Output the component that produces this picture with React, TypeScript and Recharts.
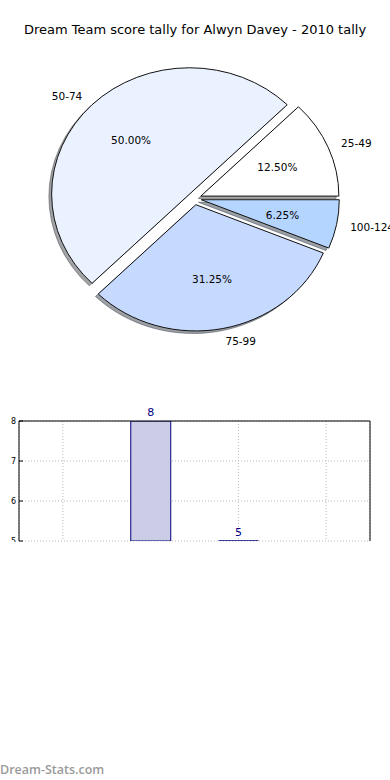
import React from 'react';
import { PieChart, Pie, BarChart, Bar, XAxis, YAxis, CartesianGrid, LabelList } from 'recharts';

const categories = ['25-49', '50-74', '75-99', '100-124'];
const tallies = [2, 8, 5, 1];
const sliceColors = ['#ffffff', '#eaf1ff', '#c6d9ff', '#b3d5ff'];
const yTicks = [5, 6, 7, 8];
const titleText = 'Dream Team score tally for Alwyn Davey - 2010 tally';
const footerText = 'Dream-Stats.com';

const pieData = categories.map((c, i) => ({ name: c, value: tallies[i] }));
const barData = categories.map((c, i) => ({ range: c, count: tallies[i] }));

const FONT = '"DejaVu Sans", sans-serif';
const EXPLODE = 0.05;
const Y_RATIO = 0.915;
const SHADOW = 0.02;
const RAD = Math.PI / 180;

function wedgePath(cx: number, cy: number, rx: number, ry: number, s: number, t: number) {
  const x1 = cx + rx * Math.cos(s * RAD);
  const y1 = cy - ry * Math.sin(s * RAD);
  const x2 = cx + rx * Math.cos(t * RAD);
  const y2 = cy - ry * Math.sin(t * RAD);
  const large = t - s > 180 ? 1 : 0;
  return `M${cx},${cy} L${x1},${y1} A${rx},${ry} 0 ${large} 0 ${x2},${y2} Z`;
}

function geom(p: any) {
  const rx = p.outerRadius;
  const ry = p.outerRadius * Y_RATIO;
  const m = p.midAngle * RAD;
  const wx = p.cx + EXPLODE * rx * Math.cos(m);
  const wy = p.cy - EXPLODE * ry * Math.sin(m);
  return { rx, ry, m, wx, wy };
}

const renderShadow = (p: any) => {
  const { rx, ry, wx, wy } = geom(p);
  const base = sliceColors[p.index] || '#ffffff';
  const r = parseInt(base.slice(1, 3), 16) * 0.3;
  const g = parseInt(base.slice(3, 5), 16) * 0.3;
  const b = parseInt(base.slice(5, 7), 16) * 0.3;
  const col = `rgb(${r.toFixed(0)},${g.toFixed(0)},${b.toFixed(0)})`;
  return (
    <path
      key={`sh-${p.index}`}
      d={wedgePath(wx - SHADOW * rx, wy + SHADOW * ry, rx, ry, p.startAngle, p.endAngle)}
      fill={col}
      fillOpacity={0.5}
      stroke={col}
      strokeOpacity={0.5}
      strokeWidth={1}
    />
  );
};

const renderWedge = (p: any) => {
  const { rx, ry, m, wx, wy } = geom(p);
  const px = wx + 0.6 * rx * Math.cos(m);
  const py = wy - 0.6 * ry * Math.sin(m);
  const lx = wx + 1.1 * rx * Math.cos(m);
  const ly = wy - 1.1 * ry * Math.sin(m);
  return (
    <g key={`w-${p.index}`}>
      <path
        d={wedgePath(wx, wy, rx, ry, p.startAngle, p.endAngle)}
        fill={sliceColors[p.index]}
        stroke="#111"
        strokeWidth={1}
      />
      <text x={px} y={py} textAnchor="middle" dominantBaseline="central" fontSize={10.5} fontFamily={FONT} fill="#000">
        {(p.percent * 100).toFixed(2)}%
      </text>
      <text
        x={lx}
        y={ly}
        textAnchor={Math.cos(m) > 0 ? 'start' : 'end'}
        dominantBaseline="central"
        fontSize={10.5}
        fontFamily={FONT}
        fill="#000"
      >
        {p.name}
      </text>
    </g>
  );
};

const BarShape = (p: any) => {
  const { x, y, width, height, payload } = p;
  if (!payload || payload.count < yTicks[0]) return <g />;
  if (Math.abs(height) < 0.5) {
    return <line x1={x} x2={x + width} y1={y} y2={y} stroke="#000080" strokeWidth={1.3} />;
  }
  const top = Math.min(y, y + height);
  return <rect x={x} y={top} width={width} height={Math.abs(height)} fill="#ccccE6" stroke="#000080" strokeWidth={1} />;
};

const renderBarLabel = (p: any) => {
  const { x, y, width, value } = p;
  if (value < yTicks[0]) return null;
  return (
    <text x={x + width / 2} y={y - 5} textAnchor="middle" fill="#000080" fontSize={11} fontFamily={FONT}>
      {value}
    </text>
  );
};

const EmptyTick = () => <g />;

export default function App() {
  return (
    <div style={{ position: 'absolute', left: 0, top: 0, width: 390, height: 780, background: '#fff', overflow: 'hidden' }}>
      <div
        style={{
          position: 'absolute',
          top: 21,
          left: 0,
          width: 390,
          textAlign: 'center',
          fontFamily: FONT,
          fontSize: 13,
          lineHeight: '18px',
          color: '#000',
        }}
      >
        {titleText}
      </div>
      <div style={{ position: 'absolute', top: 0, left: 0 }}>
        <PieChart width={390} height={380} margin={{ top: 0, right: 0, bottom: 0, left: 0 }}>
          <Pie
            data={pieData}
            dataKey="value"
            nameKey="name"
            cx={194.5}
            cy={198.5}
            outerRadius={138}
            startAngle={0}
            endAngle={360}
            fill="none"
            stroke="none"
            label={renderShadow}
            labelLine={false}
            isAnimationActive={false}
          />
          <Pie
            data={pieData}
            dataKey="value"
            nameKey="name"
            cx={194.5}
            cy={198.5}
            outerRadius={138}
            startAngle={0}
            endAngle={360}
            fill="none"
            stroke="none"
            label={renderWedge}
            labelLine={false}
            isAnimationActive={false}
          />
        </PieChart>
      </div>
      <div style={{ position: 'absolute', top: 400, left: 0, width: 390, height: 142, overflow: 'hidden' }}>
        <BarChart width={390} height={160} data={barData} margin={{ top: 20, right: 0, bottom: 19, left: 0 }}>
          <CartesianGrid yAxisId="left" stroke="#b8b8b8" strokeDasharray="1 2" />
          <XAxis
            dataKey="range"
            orientation="top"
            height={1}
            tick={EmptyTick}
            tickLine={false}
            axisLine={{ stroke: '#000' }}
          />
          <YAxis
            yAxisId="left"
            type="number"
            domain={[5, 8]}
            ticks={yTicks}
            allowDataOverflow
            width={19}
            tickSize={-4}
            tickMargin={7}
            tickLine={{ stroke: '#000' }}
            axisLine={{ stroke: '#000' }}
            tick={{ fontSize: 8, fill: '#000', fontFamily: FONT }}
          />
          <YAxis
            yAxisId="right"
            orientation="right"
            type="number"
            domain={[5, 8]}
            ticks={yTicks}
            allowDataOverflow
            width={20}
            tick={false}
            tickLine={false}
            axisLine={{ stroke: '#000' }}
          />
          <Bar yAxisId="left" dataKey="count" barSize={40} shape={BarShape} isAnimationActive={false}>
            <LabelList dataKey="count" content={renderBarLabel} />
          </Bar>
        </BarChart>
      </div>
      <div
        style={{
          position: 'absolute',
          top: 762,
          left: 0,
          fontFamily: '"Open Sans", sans-serif',
          fontWeight: 600,
          fontSize: 12.5,
          lineHeight: '16px',
          color: '#9a9a9a',
        }}
      >
        {footerText}
      </div>
    </div>
  );
}
